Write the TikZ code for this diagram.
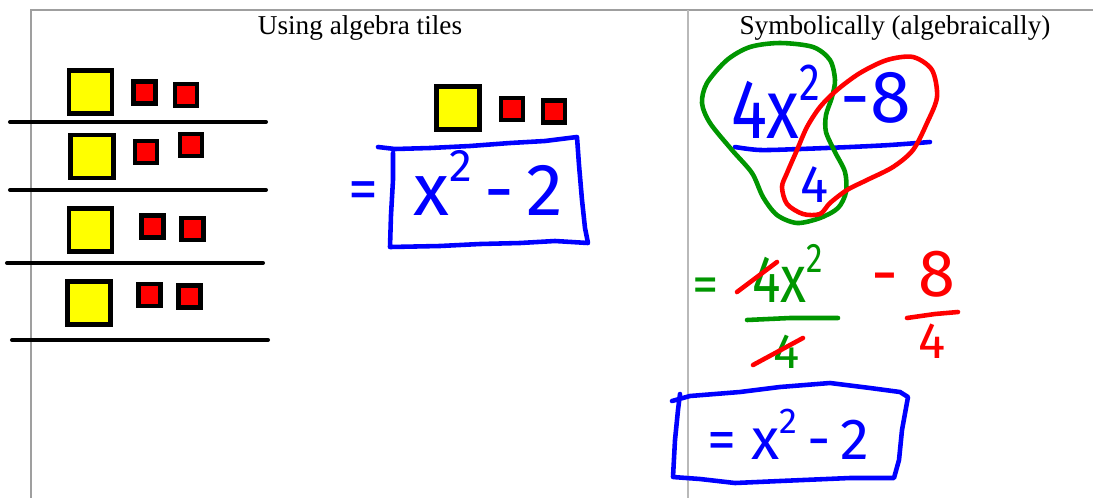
\documentclass[tikz,border=0pt]{standalone}
\usepackage{fontspec}
\setmainfont{Liberation Serif}
\newfontfamily\handfont{Fira Sans}
\usetikzlibrary{positioning}
\definecolor{penblue}{RGB}{0,0,255}
\definecolor{pengreen}{RGB}{0,150,0}
\definecolor{penred}{RGB}{255,0,0}
\definecolor{tileyellow}{RGB}{255,255,0}
\newcommand{\hsup}[1]{\raisebox{0.45em}{\scalebox{0.62}{#1}}}
\newcommand{\narrowhand}[1]{\scalebox{0.8}[1]{#1}}

\begin{document}
\begin{tikzpicture}[x=0.02cm, y=-0.02cm,
  frame/.style={draw=gray!75, line width=1.1pt},
  xtile/.style={draw, fill=tileyellow, line width=2.3pt,
    minimum size=0.86cm, inner sep=0pt},
  unittile/.style={draw, fill=penred, line width=2.3pt,
    minimum size=0.44cm, inner sep=0pt},
  divider/.style={line width=2.3pt, line cap=round},
  pen/.style={line width=2.6pt, line cap=round, line join=round},
  hand/.style={font=\handfont\fontsize{#1}{#1}\selectfont, inner sep=0pt},
  title/.style={font=\fontsize{15.5}{18}\selectfont, inner sep=0pt}
]
  \useasboundingbox (0,0) rectangle (1093,498);

  % Table frame
  \draw[frame] (30,10) -- (1093,10);
  \draw[frame] (31,10) -- (31,498);
  \draw[frame, draw=gray!55] (688,10) -- (688,498);
  \node[title] (tilestitle) at (360,28) {Using algebra tiles};
  \node[title] (symtitle) at (895,28) {Symbolically (algebraically)};

  % Four equal groups of tiles
  \node[xtile] (xa) at (90.5,92) {};
  \node[unittile] (ua1) at (144.5,92.5) {};
  \node[unittile] (ua2) at (186,95) {};
  \draw[divider] (10,122) -- (266,122);
  \node[xtile] (xb) at (92,156.5) {};
  \node[unittile] (ub1) at (146,152) {};
  \node[unittile] (ub2) at (191,145) {};
  \draw[divider] (10,190) -- (266,190);
  \node[xtile] (xc) at (90.5,230) {};
  \node[unittile] (uc1) at (152.5,226.5) {};
  \node[unittile] (uc2) at (192.5,229) {};
  \draw[divider] (7,263) -- (263,263);
  \node[xtile] (xd) at (89,303) {};
  \node[unittile] (ud1) at (149.5,295) {};
  \node[unittile] (ud2) at (189.5,296.5) {};
  \draw[divider] (12,340) -- (268,340);

  % One group
  \node[xtile] (xone) at (458,108) {};
  \node[unittile] (uone1) at (512,109) {};
  \node[unittile] (uone2) at (554,111.5) {};
  \node[hand=34pt, penblue] (tileeq) at (363,196) {=};
  \node[hand=42pt, penblue] (tileres) at (488,183) {x\hsup{2}\,-\,2};
  \draw[pen, penblue] (378,147) -- (395,149) -- (430,148) -- (470,146)
    -- (510,143) -- (545,141) -- (577,137) -- (579,165) -- (582,200)
    -- (585,228) -- (588,243) -- (555,241) -- (520,243) -- (480,244)
    -- (440,246) -- (390,247) -- (391,215) -- (393,180) -- (393,153);

  % Symbolic: the whole fraction
  \node[hand=48pt, penblue] (numx) at (776,102) {\narrowhand{4x\hsup{2}}};
  \node[hand=42pt, penblue] (numc) at (876,98) {-8};
  \node[hand=30pt, penblue] (den) at (815,185) {4};
  \draw[pen, penblue] plot[smooth] coordinates {(735,147) (760,150)
    (800,149) (850,147) (890,145) (930,142)};
  \draw[pen, pengreen] plot[smooth cycle] coordinates {(780,43) (813,47)
    (830,60) (835,80) (832,97) (826,115) (826,132) (835,152) (845,172)
    (846,192) (838,208) (820,218) (797,223) (777,215) (763,197) (752,173)
    (732,150) (710,123) (702,103) (707,83) (727,60) (750,47)};
  \draw[pen, penred] plot[smooth cycle] coordinates {(913,57) (932,70)
    (937,97) (927,123) (913,150) (893,167) (867,180) (847,190) (830,203)
    (820,214) (803,214) (787,204) (782,187) (787,173) (797,150) (807,127)
    (820,107) (837,90) (860,73) (887,60)};

  % Symbolic: split into two fractions
  \node[hand=30pt, pengreen] (greeneq) at (706,290) {=};
  \node[hand=38pt, pengreen] (splitx) at (788,273) {\narrowhand{4x\hsup{2}}};
  \node[hand=28pt, pengreen] (splitden) at (787,352) {4};
  \draw[pen, pengreen] (747,320) -- (790,318) -- (838,318);
  \draw[pen, penred] (737,292) -- (777,262);
  \draw[pen, penred] (753,365) -- (803,338);
  \node[hand=38pt, penred] (splitc) at (913,274) {-\hspace{0.3em}8};
  \node[hand=29pt, penred] (splitcden) at (932,341) {4};
  \draw[pen, penred] (907,318) -- (935,314) -- (958,312);

  % Symbolic: result
  \node[hand=33pt, penblue] (symres) at (788,434) {= x\hsup{2}\,-\,2};
  \draw[pen, penblue] (672,401) -- (690,396) -- (740,392) -- (780,387)
    -- (830,383) -- (870,388) -- (900,392) -- (908,397) -- (902,430)
    -- (899,460) -- (894,478) -- (850,478) -- (780,481) -- (735,483)
    -- (700,479) -- (673,477) -- (675,440) -- (678,410) -- (680,394);
\end{tikzpicture}
\end{document}
